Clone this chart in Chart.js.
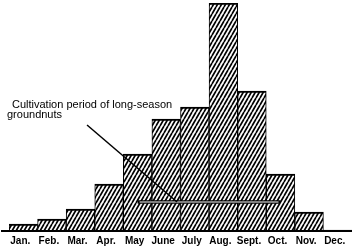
<!DOCTYPE html>
<html>
<head>
<meta charset="utf-8">
<script src="https://cdn.jsdelivr.net/npm/chart.js@4"></script>
<style>
html,body{margin:0;padding:0;background:#fff;}
#wrap{width:361px;height:251px;position:relative;}
</style>
</head>
<body>
<div id="wrap"><canvas id="c"></canvas></div>
<script>
// ---- data ----
const months = ['Jan.', 'Feb.', 'Mar.', 'Apr.', 'May', 'June', 'July', 'Aug.', 'Sept.', 'Oct.', 'Nov.', 'Dec.'];
const values = [7, 12, 22, 47, 77, 112, 124, 228, 140, 57, 19, 1];
const cultivationFrom = 'May';
const cultivationTo = 'Oct.';
const cultivationLevel = 29;
const labelLines = ['Cultivation period of long-season', 'groundnuts'];
const pointerFrom = [2.23, 106];
const pointerTo = [5.38, 29];

function hatch() {
  const w = 4, h = 7;
  const c = document.createElement('canvas');
  c.width = w; c.height = h;
  const g = c.getContext('2d');
  g.fillStyle = '#fff'; g.fillRect(0, 0, w, h);
  g.strokeStyle = '#000'; g.lineWidth = 1.7;
  g.beginPath();
  for (let k = -1; k <= 1; k++) {
    g.moveTo(k * w, h); g.lineTo(k * w + w, 0);
  }
  g.stroke();
  return g.createPattern(c, 'repeat');
}

const annot = {
  id: 'annot',
  afterDatasetsDraw(chart) {
    const ctx = chart.ctx, x = chart.scales.x, y = chart.scales.y, a = chart.chartArea;
    ctx.save();
    // baseline
    const y0 = y.getPixelForValue(0);
    ctx.strokeStyle = '#000'; ctx.lineWidth = 2;
    ctx.beginPath(); ctx.moveTo(a.left - 8, y0); ctx.lineTo(a.right, y0); ctx.stroke();
    // cultivation period bar
    const x1 = x.getPixelForValue(months.indexOf(cultivationFrom));
    const x2 = x.getPixelForValue(months.indexOf(cultivationTo));
    const yl = y.getPixelForValue(cultivationLevel);
    ctx.lineCap = 'butt';
    ctx.lineWidth = 3.5; ctx.strokeStyle = '#000';
    ctx.beginPath(); ctx.moveTo(x1, yl); ctx.lineTo(x2, yl); ctx.stroke();
    ctx.lineWidth = 1; ctx.strokeStyle = '#fff';
    ctx.beginPath(); ctx.moveTo(x1 + 2, yl); ctx.lineTo(x2 - 2, yl); ctx.stroke();
    // pointer
    ctx.lineWidth = 1.5; ctx.strokeStyle = '#000';
    ctx.beginPath();
    ctx.moveTo(x.getPixelForValue(pointerFrom[0]), y.getPixelForValue(pointerFrom[1]));
    ctx.lineTo(x.getPixelForValue(pointerTo[0]), y.getPixelForValue(pointerTo[1]));
    ctx.stroke();
    // label
    ctx.fillStyle = '#000';
    ctx.font = '11px "Liberation Sans", Arial, sans-serif';
    ctx.textBaseline = 'alphabetic';
    ctx.fillText(labelLines[0], a.left + 3, 108);
    ctx.fillText(labelLines[1], a.left - 2, 118);
    ctx.restore();
  }
};

new Chart(document.getElementById('c'), {
  type: 'bar',
  data: {
    labels: months,
    datasets: [{
      data: values,
      backgroundColor: hatch(),
      borderColor: '#000',
      borderWidth: { top: 2, left: 1, right: 1, bottom: 0 },
      borderSkipped: false,
      categoryPercentage: 1,
      barPercentage: 1
    }]
  },
  options: {
    responsive: true,
    maintainAspectRatio: false,
    devicePixelRatio: 1,
    animation: false,
    layout: { padding: { left: 9, right: 9, top: 3, bottom: 0 } },
    plugins: { legend: { display: false }, tooltip: { enabled: false } },
    scales: {
      x: {
        grid: { display: false, drawTicks: false },
        border: { display: false },
        ticks: {
          color: '#000',
          padding: 4,
          labelOffset: -3,
          maxRotation: 0,
          autoSkip: false,
          font: { family: '"Liberation Sans", Arial, sans-serif', size: 10, weight: 'bold' }
        }
      },
      y: {
        display: false,
        min: 0,
        max: 228,
        grid: { display: false }
      }
    }
  },
  plugins: [annot]
});
</script>
</body>
</html>
